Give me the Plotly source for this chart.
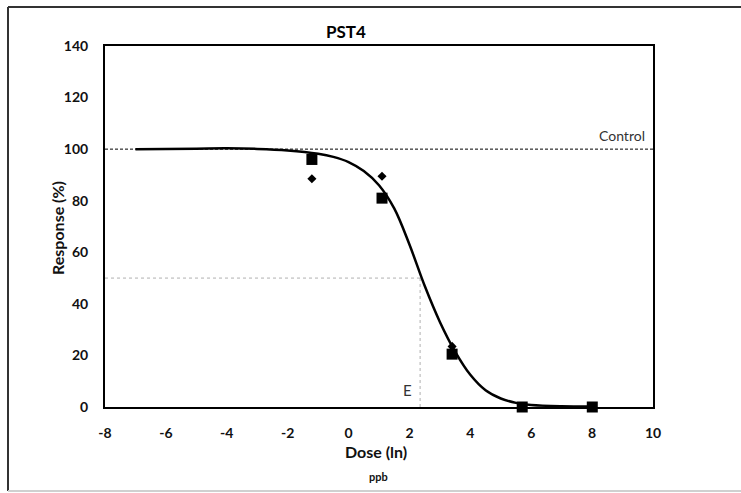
import plotly.graph_objects as go

# Data (dose on natural-log scale, response in %)
dose = [-1.204, 1.099, 3.401, 5.704, 8.006]
resp_mean = [96.0, 81.0, 20.5, 0.0, 0.0]      # squares
resp_rep = [88.5, 89.5, 23.5, 0.0, 0.0]       # diamonds

# Fitted curve
curve_x = [-7, -5, -4, -3, -2, -1, -0.5, 0, 0.5, 1, 1.5, 2, 2.5, 3, 3.5, 4, 4.5, 5, 5.5, 6, 7, 8]
curve_y = [100, 100.2, 100.3, 100.1, 99.5, 98.2, 97, 95, 91.5, 86, 77, 63, 47, 33, 21.5, 12.5, 6.5, 3.3, 1.6, 0.8, 0.3, 0.2]

control_level = 100
half_level = 50
e_dose = 2.35

x_ticks = [-8, -6, -4, -2, 0, 2, 4, 6, 8, 10]
y_ticks = [0, 20, 40, 60, 80, 100, 120, 140]

FONT = "Lato"

fig = go.Figure()

# control dashed line
fig.add_trace(go.Scatter(x=[-8, 10], y=[control_level, control_level], mode="lines",
                         line=dict(color="black", width=1, dash="3px,2px"), hoverinfo="skip"))
# EC50 guides
fig.add_trace(go.Scatter(x=[-8, e_dose], y=[half_level, half_level], mode="lines",
                         line=dict(color="#b0b0b0", width=1, dash="dot"), hoverinfo="skip"))
fig.add_trace(go.Scatter(x=[e_dose, e_dose], y=[0, half_level], mode="lines",
                         line=dict(color="#b0b0b0", width=1, dash="dot"), hoverinfo="skip"))
# fitted curve
fig.add_trace(go.Scatter(x=curve_x, y=curve_y, mode="lines",
                         line=dict(color="black", width=2.5, shape="spline", smoothing=1.0)))
# replicate diamonds
fig.add_trace(go.Scatter(x=dose, y=resp_rep, mode="markers", cliponaxis=False,
                         marker=dict(symbol="diamond", size=7, color="black")))
# mean squares
fig.add_trace(go.Scatter(x=dose, y=resp_mean, mode="markers", cliponaxis=False,
                         marker=dict(symbol="square", size=11, color="black")))

axis_common = dict(showline=True, linecolor="black", linewidth=2, mirror=True,
                   showgrid=False, zeroline=False, ticks="",
                   tickfont=dict(family=FONT, size=14, color="#111", weight="bold"))

fig.update_xaxes(range=[-8, 10], tickvals=x_ticks, ticktext=[str(v) for v in x_ticks],
                 ticklabelstandoff=12, **axis_common)
fig.update_yaxes(range=[0, 140], tickvals=y_ticks, ticktext=[str(v) for v in y_ticks],
                 ticklabelstandoff=12, **axis_common)

L, R, T, B = 105, 88, 46, 86
W, H = 741, 493
pw, ph = W - L - R, H - T - B

def px(x):
    return (x - L) / pw

def py(y):
    return (H - B - y) / ph

def ann(text, x, y, size, color="#111", **kw):
    d = dict(text=text, x=px(x), y=py(y), xref="paper", yref="paper", showarrow=False,
             xanchor="center", yanchor="middle", font=dict(family=FONT, size=size, color=color))
    d.update(kw)
    return d

annotations = [
    ann("<b>PST4</b>", 346, 32, 17, color="black"),
    ann("<b>Response (%)</b>", 57, 228, 16, textangle=-90),
    ann("<b>Dose (ln)</b>", 376, 452, 16),
    ann("<b>ppb</b>", 378, 476, 11),
    ann("Control", 647, 135, 14, color="#333", xanchor="right"),
    dict(text="E", x=1.95, y=6.5, xref="x", yref="y", xanchor="center", yanchor="middle",
         showarrow=False, font=dict(family=FONT, size=15, color="#333")),
]

shapes = [
    dict(type="line", xref="paper", yref="paper", x0=px(8), x1=px(741), y0=py(7), y1=py(7),
         line=dict(color="#333", width=2)),
    dict(type="line", xref="paper", yref="paper", x0=px(8), x1=px(8), y0=py(7), y1=py(491),
         line=dict(color="#333", width=2)),
    dict(type="line", xref="paper", yref="paper", x0=px(8), x1=px(741), y0=py(491), y1=py(491),
         line=dict(color="#d0d0d0", width=2)),
]

fig.update_layout(width=W, height=H, margin=dict(l=L, r=R, t=T, b=B),
                  plot_bgcolor="white", paper_bgcolor="white", showlegend=False,
                  annotations=annotations, shapes=shapes,
                  font=dict(family=FONT))

fig.write_html("out.html")
